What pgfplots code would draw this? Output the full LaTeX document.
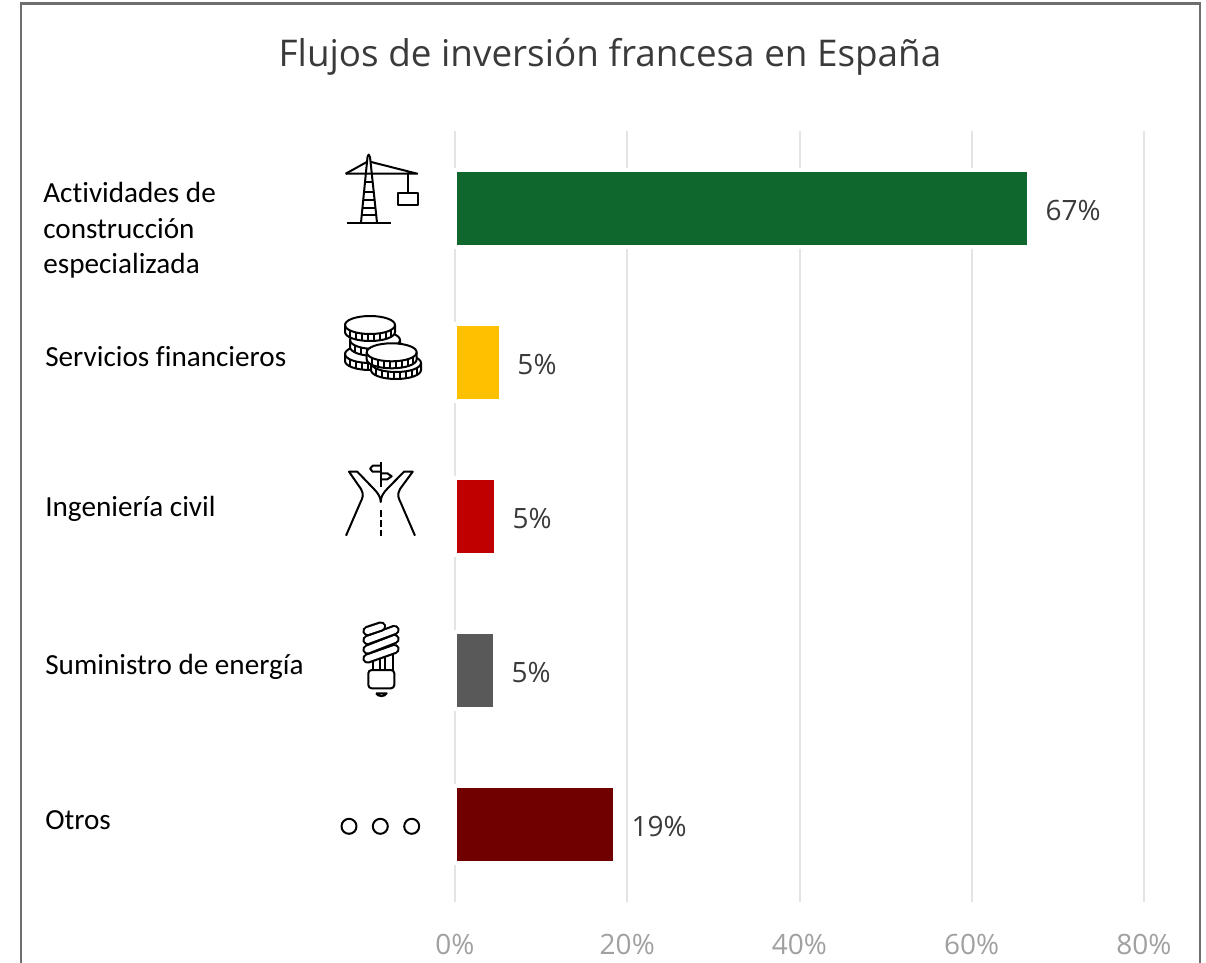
\documentclass[border=0pt]{standalone}
\usepackage{pgfplots}
\pgfplotsset{compat=1.18}
\usepackage{fontspec}
\setmainfont{Carlito}[Ligatures={NoCommon}]
\newfontfamily\seg{Open Sans}
\definecolor{gridc}{HTML}{E4E4E4}
\definecolor{framec}{HTML}{6E6E6E}
\definecolor{tickc}{HTML}{A0A0A0}
\definecolor{valc}{HTML}{3A3A3A}
\newcommand{\coin}[2]{%
  \path[fill=white,draw=black] (#1-25,#2) -- (#1-25,#2+7) .. controls (#1-25,#2+12) and (#1-14,#2+16) .. (#1,#2+16) .. controls (#1+14,#2+16) and (#1+25,#2+12) .. (#1+25,#2+7) -- (#1+25,#2) .. controls (#1+25,#2-5) and (#1+14,#2-9) .. (#1,#2-9) .. controls (#1-14,#2-9) and (#1-25,#2-5) .. (#1-25,#2) -- cycle;
  \draw (#1-25,#2) .. controls (#1-25,#2+5) and (#1-14,#2+9) .. (#1,#2+9) .. controls (#1+14,#2+9) and (#1+25,#2+5) .. (#1+25,#2);
  \foreach \d/\t in {-20/5.4,-14/7.1,-8/8.1,-2/8.5,4/8.5,10/8,16/7,21/5} {\draw (#1+\d,#2+\t) -- (#1+\d,#2+\t+7);}
}
\newcommand{\coil}[4]{%
  \draw[black,line width=6.2pt,line cap=round] (#1,#2) -- (#3,#4);
  \draw[white,line width=3.6pt,line cap=round] (#1,#2) -- (#3,#4);
}
\begin{document}
\begin{tikzpicture}[x=0.6pt,y=-0.6pt]
\path[use as bounding box] (0,0) rectangle (1206,962);
\draw[framec,line width=1.3pt] (21,980) -- (21,3.5) -- (1200,3.5) -- (1200,980);
\begin{axis}[
  at={(455*0.6pt,-902*0.6pt)}, anchor=south west,
  scale only axis, width=413.4pt, height=462.6pt,
  xmin=0, xmax=80, ymin=-0.5, ymax=4.5, y dir=reverse,
  axis line style={draw=none},
  xtick={0,20,40,60,80},
  xticklabels={0\%,20\%,40\%,60\%,80\%},
  ytick=\empty,
  xmajorgrids, major grid style={gridc,line width=1.2pt},
  tick style={draw=none},
  tick label style={font=\seg\fontsize{16.8pt}{20pt}\selectfont,text=tickc},
  xticklabel style={yshift=-16pt},
  xbar, bar shift=0pt, bar width=46.2pt,
  clip=false,
  nodes near coords,
  point meta=explicit symbolic,
  every node near coord/.append style={anchor=west,inner sep=0pt,xshift=8.7pt,yshift=-1.2pt,text=valc,font=\seg\fontsize{16.8pt}{20pt}\selectfont},
]
\addplot[fill={rgb,255:red,15;green,103;blue,45},draw=white,line width=2.4pt] coordinates {(66.67,0)[67\%]};
\addplot[fill={rgb,255:red,255;green,192;blue,0},draw=white,line width=2.4pt] coordinates {(5.34,1)[5\%]};
\addplot[fill={rgb,255:red,192;green,0;blue,0},draw=white,line width=2.4pt] coordinates {(4.76,2)[5\%]};
\addplot[fill={rgb,255:red,89;green,89;blue,89},draw=white,line width=2.4pt] coordinates {(4.65,3)[5\%]};
\addplot[fill={rgb,255:red,112;green,0;blue,0},draw=white,line width=2.4pt] coordinates {(18.58,4)[19\%]};
\end{axis}
% title
\node[anchor=base,inner sep=0pt,text=valc,font=\seg\fontsize{22.1pt}{26pt}\selectfont] at (610,66) {Flujos de inversión francesa en España};
% category labels
\begin{scope}[every node/.style={anchor=base west,inner sep=0pt,font=\fontsize{17.5pt}{18pt}\selectfont,text=black}]
\node at (43,202) {Actividades de};
\node at (43,238) {construcción};
\node at (43,273) {especializada};
\node at (45,366) {Servicios financieros};
\node at (45,516) {Ingeniería civil};
\node at (45,674) {Suministro de energía};
\node at (45,829) {Otros};
\end{scope}
% icons
\begin{scope}[line width=1.2pt,line join=round,black]
% crane
\draw (347.3,222.7) -- (390.7,222.7);
\draw (361,222.5) -- (367.5,157) -- (368.7,154.5) -- (370,157) -- (377,222.5);
\draw (345.7,173.7) -- (417.3,173.7) -- (370,161.7);
\draw (345.7,173.7) -- (367.3,161.7);
\draw (408,173.7) -- (408,192.7);
\draw (398.3,192.7) rectangle (418,205);
\foreach \y/\a/\b in {181.7/365/372.5,191.7/364/373.5,200/363.2/374.3,208.3/362.4/375.1,215/361.7/375.8} {\draw (\a,\y) -- (\b,\y);}
% coins
\coin{370}{354}
\coin{375}{340}
\coin{370}{325}
\coin{396}{363}
\coin{391.7}{352.3}
% road
\draw (346,535.7) -- (360,503.3) .. controls (363,497) and (364,495) .. (361,489) -- (349,471.7) -- (357.3,471.7) -- (373,488) .. controls (378,493) and (380.7,497) .. (380.7,502) .. controls (380.7,497) and (383,493) .. (388,488) -- (404,471.7) -- (412.7,471.7) -- (400,489) .. controls (397,495) and (398,497) .. (401,503.3) -- (415,535.7);
\draw[dash pattern=on 4pt off 2pt] (380.7,510) -- (380.7,536);
\draw (380.7,461.7) -- (380.7,486.7);
\draw (380.7,465.7) -- (372.7,465.7) -- (370,468.7) -- (372.7,471.7) -- (380.7,471.7);
\draw (380.7,473.3) -- (387.3,473.3) -- (391.7,476.3) -- (387.3,479.3) -- (380.7,479.3);
% bulb
\draw (373.3,670) -- (373.3,655);
\draw (380,670) -- (380,657);
\draw (385,670) -- (385,655);
\draw (393.3,670) -- (393.3,652);
\coil{367.5}{658.5}{394.5}{649}
\coil{367.5}{649.5}{394.5}{639}
\coil{367.5}{640}{394.5}{630}
\coil{367.5}{631}{381}{626.5}
\draw[rounded corners=2pt] (368.3,670) rectangle (394.3,688.3);
\draw (376,693.3) -- (386.7,693.3) .. controls (385,697) and (378,697) .. (376,693.3);
% dots
\draw (349,826.3) circle[radius=4.5pt];
\draw (380.3,826.3) circle[radius=4.5pt];
\draw (411.7,826.3) circle[radius=4.5pt];
\end{scope}
\end{tikzpicture}
\end{document}
